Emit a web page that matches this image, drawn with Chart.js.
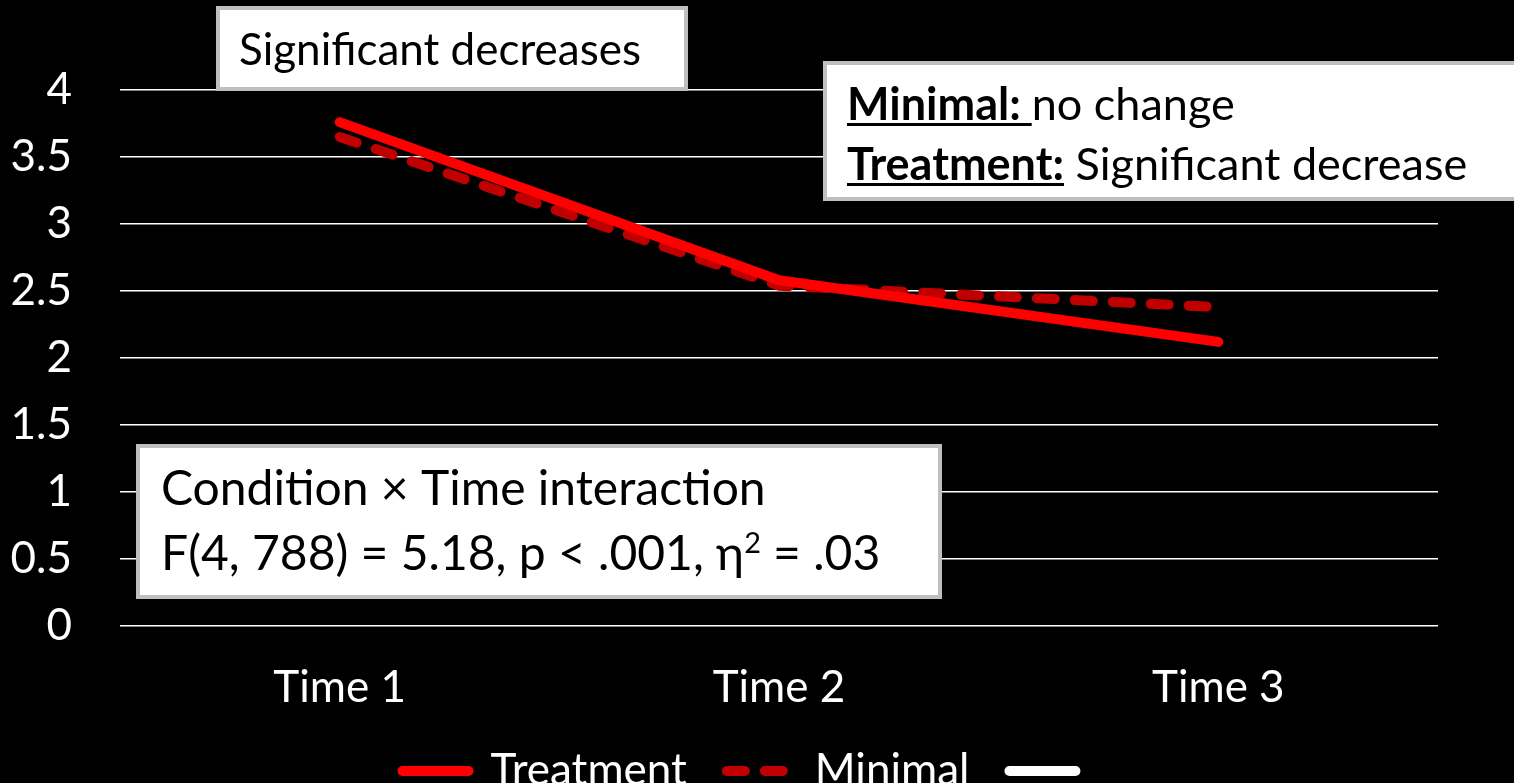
<!DOCTYPE html>
<html>
<head>
<meta charset="utf-8">
<script src="https://cdn.jsdelivr.net/npm/chart.js@4"></script>
<style>
html, body { margin: 0; padding: 0; background: #000; }
#wrap { width: 1514px; height: 783px; }
</style>
</head>
<body>
<div id="wrap"><canvas id="chart" width="1514" height="783"></canvas></div>
<script>
// values
const timePoints = ['Time 1', 'Time 2', 'Time 3'];
const treatment = [3.76, 2.58, 2.12];
const minimal = [3.65, 2.54, 2.38];
const blankSeries = [null, null, null];
const seriesNames = ['Treatment', 'Minimal', ''];

// text boxes laid over the chart
const noteText = {
  top: [[{ t: 'Significant decreases' }]],
  right: [
    [{ t: 'Minimal: ', bold: true, u: true }, { t: 'no change' }],
    [{ t: 'Treatment:', bold: true, u: true }, { t: ' Significant decrease' }]
  ],
  stats: [
    [{ t: 'Condition \u00d7 Time interaction' }],
    [{ t: 'F(4, 788) = 5.18, p < .001, \u03b7' }, { t: '2', sup: true }, { t: ' = .03' }]
  ]
};

const FONT = 'Lato, "Open Sans", sans-serif';
const FSIZE = 44;

const noteLayout = [
  { key: 'top', box: [218, 8, 468, 81], x: 239, ys: [65], size: 44 },
  { key: 'right', box: [825, 63, 700, 136], x: 847, ys: [120, 180], size: 45 },
  { key: 'stats', box: [138, 446, 802, 151], x: 161, ys: [505, 570], size: 48 }
];

const drawRuns = (ctx, runs, x, y, size) => {
  runs.forEach(r => {
    const fs = r.sup ? size * 0.6 : size;
    ctx.font = `${r.bold ? 'bold ' : ''}${fs}px ${FONT}`;
    const w = ctx.measureText(r.t).width;
    ctx.fillText(r.t, x, r.sup ? y - size * 0.36 : y);
    if (r.u) ctx.fillRect(x, y + 3, w, 3);
    x += w;
  });
};

const background = {
  id: 'background',
  beforeDraw(chart) {
    const c = chart.ctx;
    c.save();
    c.fillStyle = '#000';
    c.fillRect(0, 0, chart.width, chart.height);
    c.restore();
  }
};

// the slide's legend sits a little right of centre
const legendNudge = {
  id: 'legendNudge',
  afterLayout(chart) {
    chart.legend.left += 62;
  }
};

const notes = {
  id: 'notes',
  afterDraw(chart) {
    const c = chart.ctx;
    c.save();
    noteLayout.forEach(n => {
      const [bx, by, bw, bh] = n.box;
      c.fillStyle = '#fff';
      c.fillRect(bx, by, bw, bh);
      c.strokeStyle = '#bfbfbf';
      c.lineWidth = 4;
      c.strokeRect(bx, by, bw, bh);
      c.fillStyle = '#000';
      c.textBaseline = 'alphabetic';
      c.textAlign = 'left';
      noteText[n.key].forEach((line, i) => drawRuns(c, line, n.x, n.ys[i], n.size));
    });
    c.restore();
  }
};

const tickFont = { family: FONT, size: FSIZE };

// legend uses point styles, so carry the line dash over by hand
const legendLabels = chart => {
  const items = Chart.defaults.plugins.legend.labels.generateLabels(chart);
  return items.map(item => {
    const ds = chart.data.datasets[item.datasetIndex];
    item.lineWidth = 10;
    item.lineCap = 'round';
    item.lineDash = ds.borderDash || [];
    item.lineDashOffset = 0;
    item.strokeStyle = ds.borderColor;
    return item;
  });
};

const chart = new Chart(document.getElementById('chart'), {
  type: 'line',
  data: {
    labels: timePoints,
    datasets: [
      {
        label: seriesNames[0],
        data: treatment,
        borderColor: '#ff0000',
        backgroundColor: '#ff0000',
        borderWidth: 10,
        borderCapStyle: 'round',
        borderJoinStyle: 'round',
        pointRadius: 0,
        pointStyle: 'line'
      },
      {
        label: seriesNames[1],
        data: minimal,
        borderColor: '#c00000',
        backgroundColor: '#c00000',
        borderWidth: 10,
        borderDash: [18, 20],
        borderCapStyle: 'round',
        borderJoinStyle: 'round',
        pointRadius: 0,
        pointStyle: 'line'
      },
      {
        label: seriesNames[2],
        data: blankSeries,
        borderColor: '#ffffff',
        backgroundColor: '#ffffff',
        borderWidth: 10,
        borderCapStyle: 'round',
        pointRadius: 0,
        pointStyle: 'line'
      }
    ]
  },
  options: {
    responsive: false,
    animation: false,
    layout: { padding: { top: 90, right: 76, left: 0, bottom: -20 } },
    plugins: {
      legend: {
        position: 'bottom',
        labels: {
          color: '#fff',
          font: tickFont,
          usePointStyle: true,
          pointStyleWidth: 66,
          padding: 40,
          generateLabels: legendLabels
        }
      },
      tooltip: { enabled: false }
    },
    scales: {
      x: {
        offset: true,
        grid: { display: false, drawTicks: false },
        border: { display: false },
        ticks: { color: '#fff', font: tickFont, padding: 35 },
        afterFit: s => { s.height = 83; }
      },
      y: {
        min: 0,
        max: 4,
        ticks: {
          stepSize: 0.5,
          color: '#fff',
          font: tickFont,
          padding: 48,
          callback: v => String(v)
        },
        grid: { color: '#ffffff', lineWidth: 1.5, drawTicks: false },
        border: { display: false },
        afterFit: s => { s.width = 120; }
      }
    }
  },
  plugins: [background, legendNudge, notes]
});
</script>
</body>
</html>
